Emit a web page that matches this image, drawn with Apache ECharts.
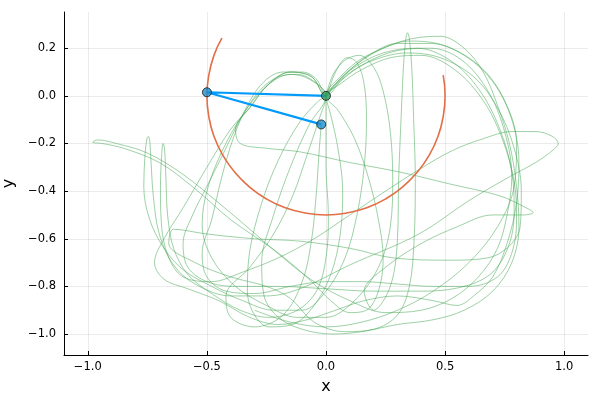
<!DOCTYPE html>
<html><head><meta charset="utf-8">
<script src="https://cdn.jsdelivr.net/npm/echarts@6/dist/echarts.min.js"></script>
<style>html,body{margin:0;padding:0;background:#fff}#c{width:600px;height:400px}</style>
</head><body><div id="c"></div>
<script>
const xTicks = [-1.0, -0.5, 0.0, 0.5, 1.0];
const yTicks = [-1.0, -0.8, -0.6, -0.4, -0.2, 0.0, 0.2];
const pendulumArm = [[0, 0], [-0.5, 0.015], [-0.02, -0.12]];
const bob1Path = [
  [0.492,0.087],[0.5,0.0],[0.492,-0.087],[0.470,-0.171],[0.433,-0.25],[0.383,-0.321],[0.321,-0.383],
  [0.25,-0.433],[0.171,-0.470],[0.087,-0.492],[0.0,-0.5],[-0.087,-0.492],[-0.171,-0.470],[-0.25,-0.433],
  [-0.321,-0.383],[-0.383,-0.321],[-0.433,-0.25],[-0.470,-0.171],[-0.492,-0.087],[-0.5,0.0],
  [-0.492,0.087],[-0.470,0.171],[-0.437,0.242]
];
const bob2Path = [
  [-0.30,-0.90],[-0.15,-0.95],[0.00,-0.97],[0.15,-0.95],[0.30,-0.90],[0.45,-0.82],[0.60,-0.70],[0.72,-0.55],[0.79,-0.38],[0.80,-0.20],[0.75,-0.02],[0.65,0.12],[0.50,0.21],[0.35,0.23],[0.22,0.19],[0.10,0.11],[0.03,0.04],[0,0],
  [-0.04,0.07],[-0.10,0.10],[-0.18,0.10],[-0.26,0.06],[-0.33,-0.04],[-0.39,-0.18],[-0.44,-0.35],[-0.48,-0.52],[-0.52,-0.66],[-0.50,-0.76],[-0.42,-0.82],[-0.30,-0.83],[-0.15,-0.80],[0.00,-0.78],[0.15,-0.78],[0.30,-0.79],[0.45,-0.80],[0.60,-0.80],[0.72,-0.76],[0.78,-0.66],[0.80,-0.52],[0.79,-0.36],[0.74,-0.18],[0.66,-0.02],[0.54,0.11],[0.40,0.17],[0.27,0.16],[0.15,0.11],[0.06,0.05],[0,0],
  [0.02,-0.08],[0.05,-0.22],[0.07,-0.40],[0.06,-0.58],[0.02,-0.75],[-0.05,-0.88],[-0.14,-0.96],[-0.24,-0.97],[-0.30,-0.92],[-0.33,-0.82],[-0.32,-0.65],[-0.27,-0.45],[-0.20,-0.27],[-0.11,-0.11],[-0.03,-0.02],[0,0],
  [0.04,0.10],[0.09,0.16],[0.13,0.14],[0.16,0.05],[0.17,-0.10],[0.16,-0.30],[0.13,-0.50],[0.08,-0.68],[0.00,-0.82],[-0.10,-0.90],[-0.22,-0.90],[-0.35,-0.86],[-0.48,-0.80],[-0.60,-0.73],[-0.68,-0.64],
  [-0.74,-0.52],[-0.765,-0.38],[-0.76,-0.25],[-0.752,-0.18],[-0.746,-0.17],[-0.74,-0.19],[-0.735,-0.27],[-0.725,-0.42],[-0.70,-0.58],[-0.64,-0.71],[-0.55,-0.79],[-0.40,-0.84],[-0.25,-0.84],[-0.11,-0.81],
  [0.10,-0.71],[0.39,-0.58],[0.60,-0.44],[0.77,-0.34],[0.88,-0.28],[0.95,-0.23],[0.975,-0.20],[0.95,-0.17],[0.88,-0.15],[0.78,-0.15],[0.66,-0.18],[0.53,-0.23],[0.39,-0.31],[0.25,-0.40],[0.10,-0.50],[-0.05,-0.60],[-0.20,-0.68],[-0.35,-0.74],[-0.48,-0.78],
  [-0.60,-0.76],[-0.66,-0.68],[-0.69,-0.55],[-0.695,-0.38],[-0.69,-0.25],[-0.684,-0.20],[-0.678,-0.22],[-0.672,-0.35],[-0.665,-0.50],[-0.64,-0.64],[-0.58,-0.75],[-0.48,-0.83],[-0.36,-0.90],[-0.24,-0.93],[-0.12,-0.90],[-0.04,-0.82],[0.00,-0.68],[0.01,-0.50],[0.00,-0.30],[0.00,-0.12],[0,0],
  [0.06,0.08],[0.14,0.15],[0.24,0.20],[0.36,0.24],[0.48,0.25],[0.58,0.20],[0.66,0.10],[0.72,-0.04],[0.77,-0.20],[0.80,-0.38],[0.81,-0.55],[0.78,-0.70],[0.70,-0.82],[0.58,-0.90],[0.45,-0.94],[0.30,-0.96],[0.15,-0.99],[0.03,-1.00],[-0.10,-0.98],[-0.20,-0.93],[-0.26,-0.84],[-0.27,-0.70],[-0.22,-0.50],[-0.15,-0.30],[-0.07,-0.12],[0,0],
  [-0.05,0.06],[-0.12,0.09],[-0.20,0.08],[-0.28,0.02],[-0.36,-0.10],[-0.43,-0.24],[-0.50,-0.38],[-0.56,-0.50],[-0.60,-0.62],[-0.58,-0.72],[-0.50,-0.78],[-0.38,-0.80],[-0.20,-0.80],[0.00,-0.81],[0.20,-0.82],[0.40,-0.82],[0.58,-0.80],[0.70,-0.74],[0.77,-0.62],[0.79,-0.48],[0.78,-0.32],[0.73,-0.14],[0.64,0.03],[0.52,0.15],[0.38,0.20],[0.24,0.18],[0.12,0.12],[0.04,0.05],[0,0],
  [0.05,-0.06],[0.12,-0.18],[0.18,-0.35],[0.22,-0.52],[0.24,-0.68],[0.22,-0.82],[0.17,-0.90],[0.10,-0.91],[0.02,-0.86],[-0.06,-0.78],[-0.20,-0.66],
  [-0.40,-0.52],[-0.55,-0.39],[-0.70,-0.28],[-0.85,-0.22],[-0.94,-0.20],[-0.98,-0.195],[-0.96,-0.185],[-0.88,-0.20],[-0.75,-0.24],[-0.60,-0.33],[-0.45,-0.45],[-0.32,-0.56],[-0.18,-0.68],[-0.05,-0.78],[0.10,-0.86],[0.25,-0.91],[0.40,-0.90],[0.53,-0.85],[0.64,-0.76],[0.72,-0.64],[0.76,-0.50],[0.78,-0.34],[0.75,-0.15],[0.68,0.02],[0.57,0.15],[0.44,0.20],[0.30,0.19],[0.17,0.14],[0.07,0.07],[0,0],
  [-0.06,0.08],[-0.15,0.10],[-0.24,0.05],[-0.32,-0.05],[-0.38,-0.14],[-0.36,-0.20],[-0.25,-0.22],[-0.11,-0.235],[0.10,-0.28],[0.31,-0.32],[0.52,-0.37],[0.73,-0.42],[0.84,-0.47],[0.87,-0.49],[0.83,-0.50],[0.70,-0.50],[0.55,-0.55],[0.40,-0.62],[0.25,-0.72],[0.16,-0.82],[0.20,-0.90],
  [0.27,-0.80],[0.30,-0.60],[0.305,-0.35],[0.315,-0.10],[0.325,0.12],[0.335,0.24],[0.342,0.265],[0.35,0.24],[0.36,0.12],[0.368,-0.10],[0.375,-0.35],[0.37,-0.60],[0.35,-0.80],[0.30,-0.92],[0.20,-0.98],[0.08,-0.99],[-0.05,-0.95],[-0.15,-0.85],
  [-0.25,-0.80],[-0.40,-0.76],[-0.55,-0.70],[-0.66,-0.62],[-0.64,-0.56],[-0.50,-0.58],[-0.30,-0.60],[-0.11,-0.61],[0.10,-0.64],[0.28,-0.68],[0.52,-0.69],[0.68,-0.68],[0.77,-0.63],[0.815,-0.55],[0.82,-0.40],[0.79,-0.22],[0.72,-0.05],[0.62,0.08],[0.48,0.16],[0.34,0.18],[0.20,0.15],[0.09,0.09],[0.02,0.02],[0,0],
  [-0.06,0.08],[-0.15,0.10],[-0.24,0.05],[-0.32,-0.05],[-0.40,-0.14],[-0.50,-0.30],[-0.60,-0.47],[-0.68,-0.60],[-0.72,-0.70],[-0.68,-0.77],[-0.58,-0.81],[-0.45,-0.86],[-0.32,-0.93],[-0.20,-0.96],[-0.08,-0.94],[0.04,-0.90],[0.16,-0.86],[0.30,-0.84],[0.45,-0.86],[0.55,-0.88],[0.62,-0.84],[0.70,-0.76],[0.76,-0.62],[0.80,-0.45],[0.81,-0.28],[0.78,-0.10],[0.70,0.06],[0.58,0.17],[0.44,0.22],[0.30,0.22],[0.18,0.17],[0.08,0.09],[0,0],
  [0.03,0.09],[0.08,0.15],[0.14,0.17],[0.20,0.12],[0.24,0.02],[0.27,-0.15],[0.28,-0.35],[0.27,-0.55],[0.22,-0.72],[0.12,-0.86],[0.00,-0.93],[-0.12,-0.93],[-0.25,-0.88],[-0.38,-0.80],[-0.48,-0.68],[-0.52,-0.54],[-0.50,-0.40],[-0.44,-0.24],[-0.35,-0.08],[-0.25,0.04],[-0.15,0.09],[-0.07,0.07],[0,0],
  [-0.03,-0.10],[-0.08,-0.25],[-0.14,-0.42],[-0.22,-0.58],[-0.32,-0.72],[-0.42,-0.84],[-0.40,-0.93],[-0.30,-0.97],[-0.18,-0.92],[-0.10,-0.78],[-0.06,-0.60],[-0.04,-0.40],[-0.03,-0.25],[-0.02,-0.12]
];

const fmt = v => (Math.abs(v) < 1e-9 ? '0.0' : v.toFixed(1)).replace('-', '\u2212');
const font = '"DejaVu Sans", sans-serif';
const chart = echarts.init(document.getElementById('c'), null, {renderer: 'canvas'});
const axisCommon = {
  type: 'value',
  axisLine: {show: true, onZero: false, lineStyle: {color: '#000', width: 1}},
  axisTick: {show: true, inside: true, length: 4, lineStyle: {color: '#000'}},
  splitLine: {show: true, lineStyle: {color: 'rgba(0,0,0,0.08)', width: 1}},
  nameTextStyle: {fontFamily: font, fontSize: 16, color: '#000'}
};
chart.setOption({
  animation: false,
  backgroundColor: '#fff',
  grid: {left: 64, right: 12, top: 12, bottom: 45, containLabel: false, outerBoundsMode: 'none'},
  xAxis: Object.assign({}, axisCommon, {
    min: -1.1, max: 1.1,
    name: 'x', nameLocation: 'middle', nameGap: 24,
    axisTick: Object.assign({}, axisCommon.axisTick, {customValues: xTicks}),
    axisLabel: {customValues: xTicks, formatter: fmt, fontFamily: font, fontSize: 11.5, color: '#000', margin: 6}
  }),
  yAxis: Object.assign({}, axisCommon, {
    min: -1.088, max: 0.352,
    name: 'y', nameLocation: 'middle', nameGap: 41, nameRotate: 90,
    axisTick: Object.assign({}, axisCommon.axisTick, {customValues: yTicks}),
    axisLabel: {customValues: yTicks, formatter: fmt, fontFamily: font, fontSize: 11.5, color: '#000', margin: 8}
  }),
  series: [
    {type: 'line', data: bob2Path, smooth: 0.35, showSymbol: false, silent: true, z: 1,
     lineStyle: {color: '#3EA44E', width: 1, opacity: 0.5}},
    {type: 'line', data: bob1Path, smooth: true, showSymbol: false, silent: true, z: 2,
     lineStyle: {color: '#E26F46', width: 1.6}},
    {type: 'line', data: pendulumArm, showSymbol: false, silent: true, z: 3,
     lineStyle: {color: '#009AFA', width: 2.2}},
    {type: 'scatter', symbolSize: 9, z: 4, silent: true,
     data: pendulumArm.map((p, i) => ({value: p, itemStyle: {color: i === 0 ? '#2E9A5E' : '#1B8DCC', borderColor: '#1a1a1a', borderWidth: 1}}))}
  ]
});
</script></body></html>
